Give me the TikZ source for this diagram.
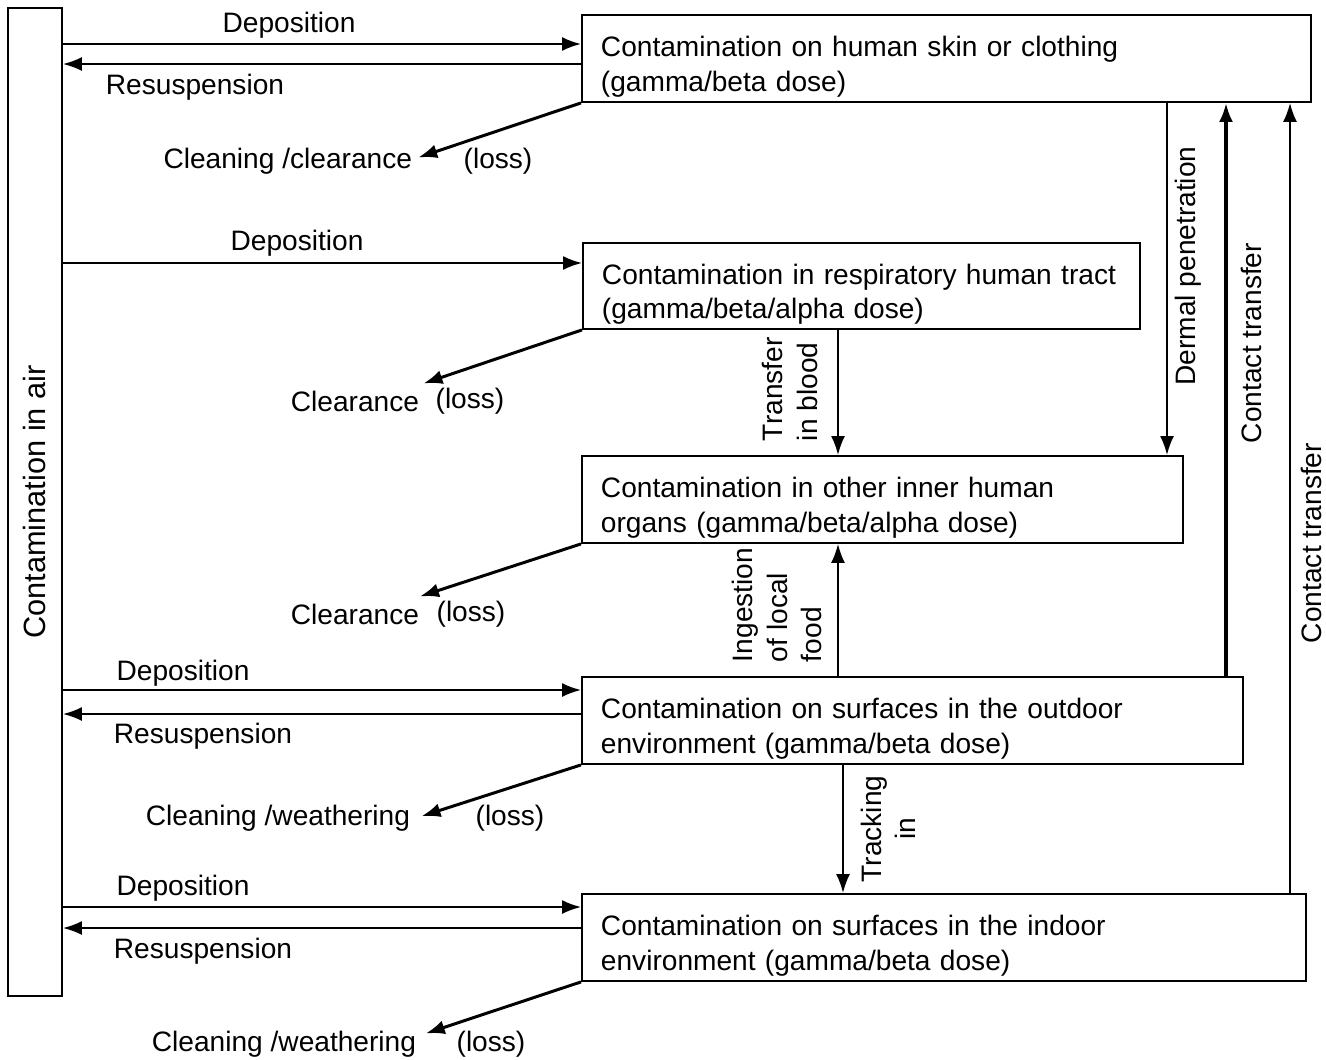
\documentclass[tikz,border=0pt]{standalone}
\usepackage{fontspec}
\setmainfont{Liberation Sans}
\usetikzlibrary{arrows.meta}
\begin{document}
\begin{tikzpicture}
[x=0.02cm, y=-0.02cm, >={Latex[length=3.8mm,width=2.8mm]}, line width=1.1pt,
 font=\fontsize{16}{19.5}\selectfont,
 box/.style={draw, anchor=north west, inner xsep=0.38cm, inner ysep=0pt, align=left, minimum height=1.74cm,
   execute at begin node={\rule{0pt}{21pt}}},
 lbl/.style={inner sep=0pt},
 vlbl/.style={inner sep=0pt, rotate=90},
 loss/.style={->, line width=1.7pt}]
\useasboundingbox (0,0) rectangle (1326,1059);
\node (air) at (35,502) [draw, minimum width=1.08cm, minimum height=19.76cm, inner sep=0pt] {\rotatebox{90}{\fontsize{17.5}{20}\selectfont Contamination in air}};

\node (skin) at (581,14) [box, text width=13.82cm] {Contamination on human skin or clothing\\(gamma/beta dose)};
\node (resp) at (582,242) [box, text width=10.38cm, minimum height=1.72cm] {Contamination in respiratory human tract\\(gamma/beta/alpha dose)};
\node (organs) at (581,455) [box, text width=11.26cm] {Contamination in other inner human\\organs (gamma/beta/alpha dose)};
\node (outdoor) at (581,676) [box, text width=12.46cm] {Contamination on surfaces in the outdoor\\environment (gamma/beta dose)};
\node (indoor) at (581,893) [box, text width=13.72cm] {Contamination on surfaces in the indoor\\environment (gamma/beta dose)};

% skin
\draw[->] (air.east |- 0,44) -- (skin.west |- 0,44);
\draw[->] (skin.west |- 0,64) -- (air.east |- 0,64);
\node (dep1) at (289,25) [lbl] {Deposition};
\node (res1) at (195,87) [lbl] {Resuspension};
\node (clean1) at (413,161) [lbl, anchor=east] {Cleaning /clearance};
\node (loss1) at (498,161) [lbl] {(loss)};
\draw[loss] (skin.south west) -- ([xshift=3pt,yshift=2pt]clean1.east);

% respiratory tract
\draw[->] (air.east |- 0,263) -- (resp.west |- 0,263);
\node (dep2) at (297,243) [lbl] {Deposition};
\node (clear2) at (420,401) [lbl, anchor=east] {Clearance};
\node (loss2) at (470,401) [lbl] {(loss)};
\draw[loss] (resp.south west) -- ([xshift=2pt,yshift=10pt]clear2.east);

% inner organs
\node (clear3) at (420,614) [lbl, anchor=east] {Clearance};
\node (loss3) at (471,614) [lbl] {(loss)};
\draw[loss] (organs.south west) -- ([yshift=10pt]clear3.east);

% outdoor
\draw[->] (air.east |- 0,690) -- (outdoor.west |- 0,690);
\draw[->] (outdoor.west |- 0,714) -- (air.east |- 0,714);
\node (dep4) at (183,673) [lbl] {Deposition};
\node (res4) at (203,736) [lbl] {Resuspension};
\node (clean4) at (411,818) [lbl, anchor=east] {Cleaning /weathering};
\node (loss4) at (510,818) [lbl] {(loss)};
\draw[loss] (outdoor.south west) -- ([xshift=6pt,yshift=1pt]clean4.east);

% indoor
\draw[->] (air.east |- 0,907) -- (indoor.west |- 0,907);
\draw[->] (indoor.west |- 0,928) -- (air.east |- 0,928);
\node (dep5) at (183,888) [lbl] {Deposition};
\node (res5) at (203,951) [lbl] {Resuspension};
\node (clean5) at (417,1044) [lbl, anchor=east] {Cleaning /weathering};
\node (loss5) at (491,1044) [lbl] {(loss)};
\draw[loss] (indoor.south west) -- ([xshift=5pt,yshift=6pt]clean5.east);

% vertical transfers
\draw[->] (838,0 |- resp.south) -- (838,0 |- organs.north);
\node (blood) at (790,442) [vlbl, anchor=west, align=left] {Transfer\\in blood};
\draw[->] (1167,0 |- skin.south) -- (1167,0 |- organs.north);
\node (dermal) at (1188,266) [vlbl] {Dermal penetration};
\draw[->, line width=2pt] (1226,0 |- outdoor.north) -- (1226,0 |- skin.south);
\node (contact1) at (1251,343) [vlbl] {Contact transfer};
\draw[->] (1290,0 |- indoor.north) -- (1290,0 |- skin.south);
\node (contact2) at (1321,543) [vlbl, anchor=base, text depth=0pt] {Contact transfer};
\draw[->] (838,0 |- outdoor.north) -- (838,0 |- organs.south);
\node (ingest) at (777,663) [vlbl, anchor=west, align=left] {Ingestion\\of local\\food};
\draw[->] (843,0 |- outdoor.south) -- (843,0 |- indoor.north);
\node (track) at (888,829) [vlbl, align=center] {Tracking\\in};
\end{tikzpicture}
\end{document}
